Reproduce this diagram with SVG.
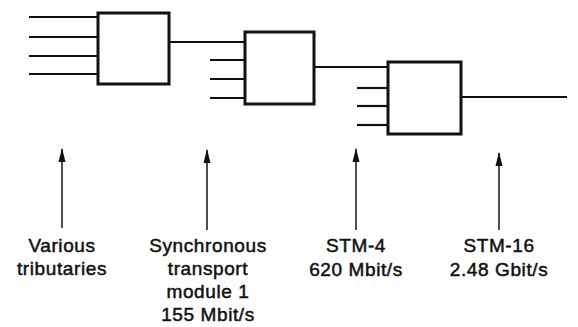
<svg xmlns="http://www.w3.org/2000/svg" width="578" height="327" viewBox="0 0 578 327">
<defs>
<style>
.box{fill:#fff;stroke:#111;stroke-width:3}
.ln{stroke:#111;stroke-width:2.2;fill:none}
.ar{stroke:#222;stroke-width:1.6;fill:none;marker-end:url(#ah)}
text{font-family:"Liberation Sans",Arial,sans-serif;font-size:19px;letter-spacing:0.6px;fill:#111;text-anchor:middle;stroke:#111;stroke-width:0.5}
</style>
<marker id="ah" viewBox="0 0 14 10" refX="13" refY="5" markerWidth="14" markerHeight="10" markerUnits="userSpaceOnUse" orient="auto">
<path d="M0,1.5 L14,5 L0,8.5 Z" fill="#111"/>
</marker>
</defs>
<rect width="578" height="327" fill="#fff"/>
<g id="connectors">
<line class="ln" x1="29" y1="17" x2="98" y2="17"/>
<line class="ln" x1="29" y1="37" x2="98" y2="37"/>
<line class="ln" x1="29" y1="56" x2="98" y2="56"/>
<line class="ln" x1="29" y1="74" x2="98" y2="74"/>
<line class="ln" x1="169" y1="42" x2="245" y2="42"/>
<line class="ln" x1="210" y1="60" x2="245" y2="60"/>
<line class="ln" x1="210" y1="79" x2="245" y2="79"/>
<line class="ln" x1="210" y1="98" x2="245" y2="98"/>
<line class="ln" x1="314" y1="67" x2="388" y2="67"/>
<line class="ln" x1="357" y1="88" x2="388" y2="88"/>
<line class="ln" x1="357" y1="106" x2="388" y2="106"/>
<line class="ln" x1="357" y1="125" x2="388" y2="125"/>
<line class="ln" x1="461" y1="97" x2="567" y2="97"/>
<line class="ar" x1="62" y1="228" x2="62" y2="149"/>
<line class="ar" x1="207" y1="230" x2="207" y2="150"/>
<line class="ar" x1="356" y1="230" x2="356" y2="149"/>
<line class="ar" x1="499" y1="230" x2="499" y2="153"/>
</g>
<g id="mux1"><rect class="box" x="98" y="13" width="71" height="71"/></g>
<g id="mux2"><rect class="box" x="245" y="32" width="69" height="72"/></g>
<g id="mux3"><rect class="box" x="388" y="62" width="73" height="72"/></g>
<g id="label-tributaries">
<text x="62" y="252">Various</text>
<text x="62" y="275">tributaries</text>
</g>
<g id="label-stm1">
<text x="208" y="252">Synchronous</text>
<text x="208" y="275">transport</text>
<text x="208" y="298">module 1</text>
<text x="208" y="321">155 Mbit/s</text>
</g>
<g id="label-stm4">
<text x="356" y="252">STM-4</text>
<text x="356" y="276">620 Mbit/s</text>
</g>
<g id="label-stm16">
<text x="499" y="252">STM-16</text>
<text x="499" y="276">2.48 Gbit/s</text>
</g>
</svg>
